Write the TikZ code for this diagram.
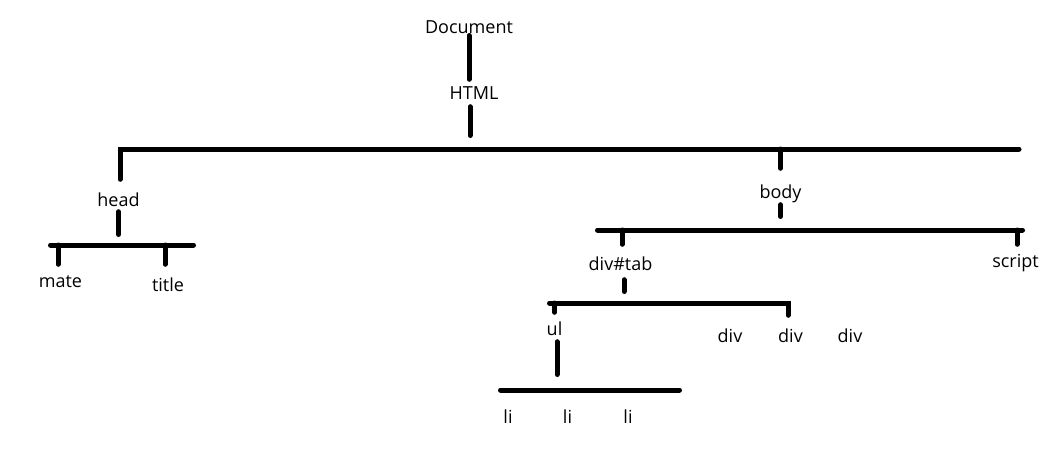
\documentclass[tikz,border=0pt]{standalone}
\usepackage{fontspec}
\setmainfont{Open Sans}
\tikzset{
  tag/.style={anchor=base,inner sep=0pt,text height=13pt,text depth=4pt,font=\fontsize{18}{21}\selectfont},
  edge/.style={line width=5pt,line cap=round}
}
\begin{document}
\begin{tikzpicture}[x=1pt,y=-1pt]
        \useasboundingbox (0,0) rectangle (1054,469);
        % labels
        \node[tag] (doc) at (469,33) {Document};
        \node[tag] (html) at (474,99) {HTML};
        \node[tag] (head) at (118.5,206) {head};
        \node[tag] (mate) at (60.5,287) {mate};
        \node[tag] (title) at (168,291) {title};
        \node[tag] (body) at (780.5,198) {body};
        \node[tag] (divtab) at (620.5,270) {div\#tab};
        \node[tag] (script) at (1015.5,267) {script};
        \node[tag] (ul) at (554.5,335) {ul};
        \node[tag] (div1) at (730,342) {div};
        \node[tag] (div2) at (790.5,342) {div};
        \node[tag] (div3) at (850,342) {div};
        \node[tag] (li1) at (508,423) {li};
        \node[tag] (li2) at (567.5,423) {li};
        \node[tag] (li3) at (628,423) {li};
        % bar ends
        \coordinate (top west) at (120,149);
        \coordinate (top east) at (1019,149);
        \coordinate (head west) at (50.5,245);
        \coordinate (head east) at (193.5,245);
        \coordinate (body west) at (597.5,230);
        \coordinate (body east) at (1022.5,230);
        \coordinate (tab west) at (549.5,303);
        \coordinate (tab east) at (788,303);
        \coordinate (ul west) at (500.5,390);
        \coordinate (ul east) at (679.5,390);
        % Document and HTML
        \draw[edge] ([yshift=-2.5pt]doc.base) -- ([yshift=6.5pt]doc.base |- html.north);
        \draw[edge] ([xshift=-4pt,yshift=-3.5pt]html.south) -- ([xshift=-4pt,yshift=13.5pt]html.south |- top west);
        \draw[edge] ([yshift=13.5pt]top west |- head.north) -- (top west) -- (top east);
        % head
        \draw[edge] ([yshift=-1.5pt]head.south) -- ([yshift=10.5pt]head.south |- head west);
        \draw[edge] (head west) -- (head east);
        \draw[edge] ([xshift=-2.5pt]mate.north |- head west) -- ([xshift=-2.5pt,yshift=9.5pt]mate.north);
        \draw[edge] ([xshift=-3pt]title.north |- head west) -- ([xshift=-3pt,yshift=13.5pt]title.north);
        % body
        \draw[edge] (body.north |- top west) -- ([yshift=16.5pt]body.north);
        \draw[edge] ([yshift=-2.5pt]body.south) -- ([yshift=13.5pt]body.south |- body west);
        \draw[edge] (body west) -- (body east);
        \draw[edge] ([xshift=1.5pt]divtab.north |- body west) -- ([xshift=1.5pt,yshift=12.5pt]divtab.north);
        \draw[edge] ([xshift=1.5pt]script.north |- body west) -- ([xshift=1.5pt,yshift=9.5pt]script.north);
        % div#tab
        \draw[edge] ([xshift=3.5pt,yshift=-5.5pt]divtab.south) -- ([xshift=3.5pt,yshift=11.5pt]divtab.south |- tab west);
        \draw[edge] (tab west) -- (tab east) -- ([yshift=13.5pt]tab east |- div2.north);
        \draw[edge] (ul.north |- tab west) -- ([yshift=9.5pt]ul.north);
        % ul
        \draw[edge] ([xshift=2.5pt,yshift=-2.5pt]ul.south) -- ([xshift=2.5pt,yshift=15.5pt]ul.south |- ul west);
        \draw[edge] (ul west) -- (ul east);
    \end{tikzpicture}
\end{document}
